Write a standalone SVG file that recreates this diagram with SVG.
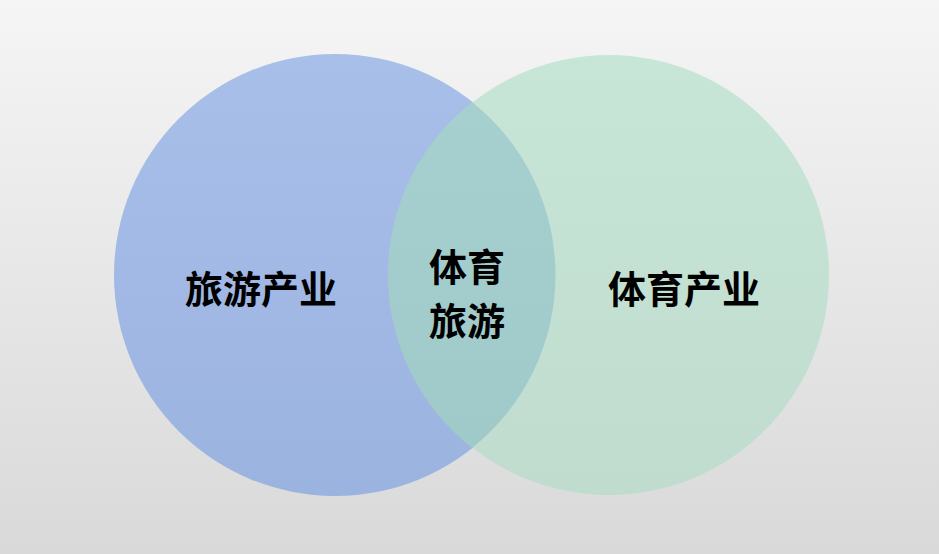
<svg xmlns="http://www.w3.org/2000/svg" width="939" height="554" viewBox="0 0 939 554">
<defs>
<linearGradient id="bg" x1="0" y1="0" x2="0" y2="1">
<stop offset="0" stop-color="#f5f5f5"/>
<stop offset="1" stop-color="#d9d9d9"/>
</linearGradient>
<linearGradient id="gb" x1="0" y1="0" x2="0" y2="1">
<stop offset="0" stop-color="#a7bfe9"/>
<stop offset="1" stop-color="#9bb3df"/>
</linearGradient>
<linearGradient id="gg" x1="0" y1="0" x2="0" y2="1">
<stop offset="0" stop-color="#c8e6d8"/>
<stop offset="1" stop-color="#bfdccf"/>
</linearGradient>
<linearGradient id="go" x1="0" y1="0" x2="0" y2="1">
<stop offset="0" stop-color="#a6cfcf"/>
<stop offset="1" stop-color="#a0c9c9"/>
</linearGradient>
<style>
.t{font-family:"Noto Sans CJK SC","Noto Sans",sans-serif;font-weight:bold;font-size:38px;fill:#000;text-anchor:middle;dominant-baseline:central}
</style>
</defs>
<rect width="939" height="554" fill="url(#bg)"/>
<g id="left">
<circle cx="335" cy="275" r="221" fill="url(#gb)"/>
</g>
<g id="right">
<circle cx="609" cy="275" r="220" fill="url(#gg)"/>
</g>
<g id="overlap">
<path d="M472,102 A220,220 0 0 0 472,448 A221,221 0 0 0 472,102 Z" fill="url(#go)"/>
</g>
<g id="connectors"></g>
<g id="labels">
<text class="t" x="261" y="286">旅游产业</text>
<text class="t" x="684" y="286">体育产业</text>
<text class="t" x="467" y="264">体育</text>
<text class="t" x="467" y="318">旅游</text>
</g>
</svg>
